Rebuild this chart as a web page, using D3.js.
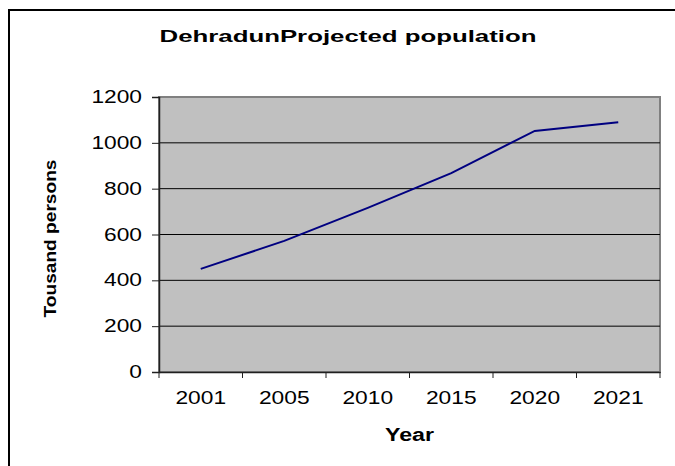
<!DOCTYPE html>
<html>
<head>
<meta charset="utf-8">
<script src="https://cdn.jsdelivr.net/npm/d3@7"></script>
<style>
  body { margin: 0; background: #fff; }
  svg { display: block; font-family: "Liberation Sans", Arial, sans-serif; }
</style>
</head>
<body>
<svg id="chart" width="675" height="466"></svg>
<script>
const years = ['2001', '2005', '2010', '2015', '2020', '2021'];
const population = [450, 572, 716, 868, 1052, 1090];
const yTicks = [0, 200, 400, 600, 800, 1000, 1200];

const svg = d3.select('svg#chart');
const margin = {left: 159, right: 15, top: 97, bottom: 94};
const width = 675 - margin.left - margin.right;
const height = 466 - margin.top - margin.bottom;

// outer chart frame (runs off the right and bottom edges)
svg.append('rect')
  .attr('x', 9)
  .attr('y', 10)
  .attr('width', 700)
  .attr('height', 500)
  .attr('fill', 'none')
  .attr('stroke', '#000')
  .attr('stroke-width', 2);

// stretch text horizontally like the reference
const stretch = (sel, f) => sel.each(function() {
  const w = this.getComputedTextLength();
  d3.select(this).attr('textLength', w * f).attr('lengthAdjust', 'spacingAndGlyphs');
});

const x = d3.scaleBand().domain(years).range([0, width]);
const y = d3.scaleLinear().domain([0, 1200]).range([height, 0]);

const g = svg.append('g')
  .attr('transform', `translate(${margin.left}, ${margin.top})`);

g.append('rect')
  .attr('width', width)
  .attr('height', height)
  .attr('fill', '#c0c0c0')
  .attr('stroke', '#808080')
  .attr('stroke-width', 2);

g.selectAll('line.grid')
  .data(yTicks.filter(d => d > 0 && d < 1200))
  .join('line')
  .attr('class', 'grid')
  .attr('x1', 0)
  .attr('x2', width)
  .attr('y1', d => y(d))
  .attr('y2', d => y(d))
  .attr('stroke', '#000')
  .attr('stroke-width', 1);

const line = d3.line()
  .x((d, i) => x(years[i]) + x.bandwidth() / 2)
  .y(d => y(d));

g.append('path')
  .datum(population)
  .attr('d', line)
  .attr('fill', 'none')
  .attr('stroke', '#000080')
  .attr('stroke-width', 2);

// y axis
const yAxis = g.append('g')
  .call(d3.axisLeft(y).tickValues(yTicks).tickFormat(d3.format('d')).tickSize(7).tickPadding(10));
yAxis.select('.domain').attr('stroke', '#202020').attr('stroke-width', 1.5);
yAxis.selectAll('line').attr('stroke', '#202020');
yAxis.selectAll('text')
  .attr('font-size', 17.5)
  .attr('fill', '#000')
  .call(stretch, 1.3);

// x axis, ticks between categories
const xAxis = g.append('g')
  .attr('transform', `translate(0, ${height})`)
  .call(d3.axisBottom(x).tickSize(0).tickPadding(20));
xAxis.select('.domain').attr('stroke', '#202020').attr('stroke-width', 1.5);
xAxis.selectAll('text')
  .attr('font-size', 17.5)
  .attr('fill', '#000')
  .call(stretch, 1.3);
xAxis.selectAll('line.sep')
  .data(d3.range(years.length + 1))
  .join('line')
  .attr('class', 'sep')
  .attr('x1', d => d * x.bandwidth())
  .attr('x2', d => d * x.bandwidth())
  .attr('y1', 0)
  .attr('y2', 6)
  .attr('stroke', '#202020');

// titles
svg.append('text')
  .attr('x', 348)
  .attr('y', 42)
  .attr('text-anchor', 'middle')
  .attr('font-size', 17)
  .attr('font-weight', 'bold')
  .attr('textLength', 377)
  .attr('lengthAdjust', 'spacingAndGlyphs')
  .text('DehradunProjected population');

svg.append('text')
  .attr('x', margin.left + width / 2)
  .attr('y', 441)
  .attr('text-anchor', 'middle')
  .attr('font-size', 18)
  .attr('font-weight', 'bold')
  .attr('textLength', 49)
  .attr('lengthAdjust', 'spacingAndGlyphs')
  .text('Year');

svg.append('text')
  .attr('transform', `translate(56, ${margin.top + height / 2 + 4}) rotate(-90)`)
  .attr('text-anchor', 'middle')
  .attr('font-size', 16.5)
  .attr('font-weight', 'bold')
  .attr('textLength', 158)
  .attr('lengthAdjust', 'spacingAndGlyphs')
  .text('Tousand persons');
</script>
</body>
</html>
